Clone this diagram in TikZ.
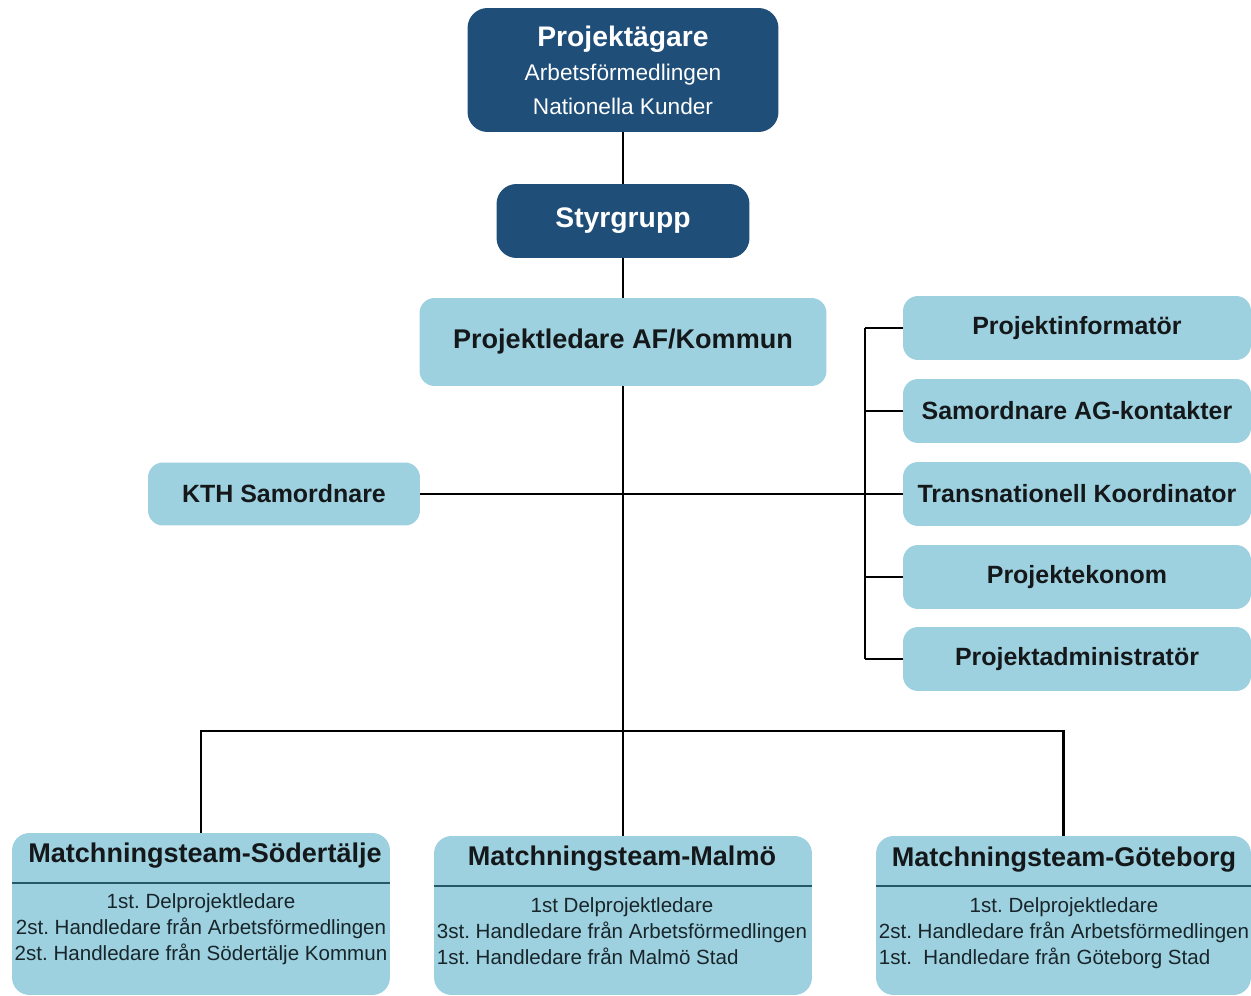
\documentclass[tikz,border=0pt]{standalone}
\usepackage{fontspec}
\setmainfont{Liberation Sans}
\frenchspacing
\usetikzlibrary{positioning}
\definecolor{ownerblue}{RGB}{31,78,121}
\definecolor{roleblue}{RGB}{158,209,223}
\definecolor{teamline}{RGB}{38,88,104}
\definecolor{inktext}{RGB}{20,24,26}
\tikzset{
  ownerbox/.style={fill=ownerblue, rounded corners=0.4cm, text=white,
    align=center, inner sep=0pt},
  rolebox/.style={fill=roleblue, rounded corners=0.3cm, text=inktext,
    font=\bfseries\fontsize{14.2}{17}\selectfont, inner sep=0pt,
    minimum width=6.96cm, minimum height=1.28cm},
  teambox/.style={fill=roleblue, rounded corners=0.35cm, inner sep=0pt},
  teamtitle/.style={text=inktext, font=\bfseries\fontsize{15.4}{18}\selectfont},
  teambody/.style={text=inktext!80!teamline, font=\fontsize{11.7}{14.8}\selectfont,
    inner sep=0pt},
  link/.style={draw=black, line width=1.4pt}
}
% one box of the staff column, hooked to the bus on its left
\newcommand{\staffBox}[3]{ \node[rolebox] (#1) at (1077,#2) {#3};
  \draw[link] (#1.west) -- (#1.west -| bus); }

\begin{document}
\begin{tikzpicture}[x=0.02cm, y=-0.02cm]
  \useasboundingbox (0,0) rectangle (1251,996);

  % top of the tree
  \node[ownerbox, minimum width=6.22cm, minimum height=2.48cm,
    font=\fontsize{12.9}{19.3}\selectfont] (owner) at (623,70)
    {{\bfseries\fontsize{16.1}{19.3}\selectfont Projektägare}\\
     Arbetsförmedlingen\\ Nationella Kunder};
  \node[ownerbox, minimum width=5.06cm, minimum height=1.48cm,
    font=\bfseries\fontsize{16.1}{19}\selectfont] (styr) at (623,221) {Styrgrupp};
  \node[rolebox, minimum width=8.14cm, minimum height=1.76cm,
    font=\bfseries\fontsize{15.4}{18}\selectfont] (leader) at (623,342)
    {Projektledare AF/Kommun};
  \node[rolebox, minimum width=5.44cm, minimum height=1.26cm] (kth) at (284,494)
    {KTH Samordnare};

  \draw[link] (owner) -- (styr);
  \draw[link] (styr) -- (leader);
  \coordinate (hub) at (leader.south |- 0,731);
  \draw[link] (leader.south) -- (hub);

  % staff column on the right
  \coordinate (bus) at (865,328);
  \staffBox{info}{328}{Projektinformatör}
  \staffBox{agkont}{411}{Samordnare AG-kontakter}
  \staffBox{trans}{494}{Transnationell Koordinator}
  \staffBox{ekonom}{577}{Projektekonom}
  \staffBox{admin}{659}{Projektadministratör}
  \draw[link] (info.west -| bus) -- (admin.west -| bus);
  \draw[link] (kth.east) -- (trans.west -| bus);

  % the three teams
  \node[teambox, minimum width=7.56cm, minimum height=3.24cm] (teamS) at (201,914) {};
  \node[teambox, minimum width=7.56cm, minimum height=3.18cm] (teamM) at (623,915.5) {};
  \node[teambox, minimum width=7.5cm, minimum height=3.18cm] (teamG) at (1063.5,915.5) {};

  \node[teamtitle] (teamStitle) at (205,856) {Matchningsteam-Södertälje};
  \node[teamtitle] (teamMtitle) at (622,859) {Matchningsteam-Malmö};
  \node[teamtitle] (teamGtitle) at (1064,860) {Matchningsteam-Göteborg};

  \draw[teamline, line width=1.2pt] (teamS.west |- 0,883) -- (teamS.east |- 0,883);
  \draw[teamline, line width=1.2pt] (teamM.west |- 0,886) -- (teamM.east |- 0,886);
  \draw[teamline, line width=1.2pt] (teamG.west |- 0,886) -- (teamG.east |- 0,886);

  \node[teambody, align=center] (teamSbody) at (201,929)
    {1st. Delprojektledare\\ 2st. Handledare från Arbetsförmedlingen\\
     2st. Handledare från Södertälje Kommun};
  \node[teambody] (teamMbody) at (622,933)
    {\begin{tabular}{@{}l@{}}
       \multicolumn{1}{@{}c@{}}{1st Delprojektledare}\\
       3st. Handledare från Arbetsförmedlingen\\
       1st. Handledare från Malmö Stad
     \end{tabular}};
  \node[teambody] (teamGbody) at (1064,933)
    {\begin{tabular}{@{}l@{}}
       \multicolumn{1}{@{}c@{}}{1st. Delprojektledare}\\
       2st. Handledare från Arbetsförmedlingen\\
       1st.\ \ Handledare från Göteborg Stad
     \end{tabular}};

  \draw[link] (teamS.north) |- (hub) -| (teamG.north);
  \draw[link] (hub) -- (teamM.north);
\end{tikzpicture}
\end{document}
